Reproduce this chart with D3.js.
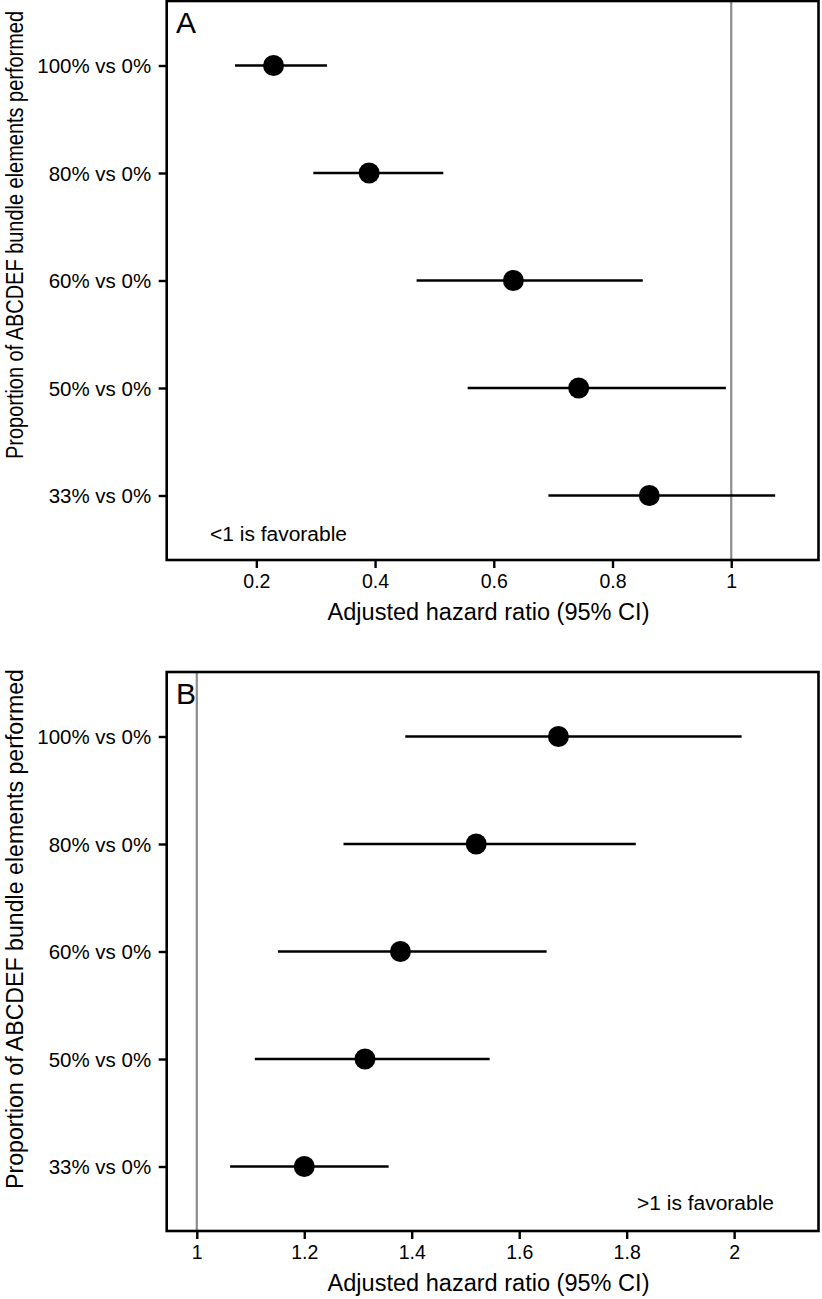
<!DOCTYPE html>
<html><head><meta charset="utf-8">
<script src="https://cdn.jsdelivr.net/npm/d3@7"></script>
<style>
body{margin:0;background:#fff}
text{font-family:"Liberation Sans",Arial,Helvetica,sans-serif;fill:#000}
</style>
</head><body>
<svg id="c" width="822" height="1299"></svg>
<script>
// ---- data ----
const categories = ["100% vs 0%", "80% vs 0%", "60% vs 0%", "50% vs 0%", "33% vs 0%"];
const hrA = [0.229, 0.390, 0.633, 0.743, 0.862];
const loA = [0.164, 0.296, 0.470, 0.556, 0.692];
const hiA = [0.319, 0.515, 0.851, 0.991, 1.074];
const hrB = [1.673, 1.520, 1.379, 1.313, 1.200];
const loB = [1.388, 1.273, 1.151, 1.108, 1.062];
const hiB = [2.014, 1.817, 1.651, 1.545, 1.357];
const ticksA = [0.2, 0.4, 0.6, 0.8, 1];
const ticksB = [1, 1.2, 1.4, 1.6, 1.8, 2];
const domainA = [0.049, 1.147];
const domainB = [0.944, 2.157];
const xTitle = "Adjusted hazard ratio (95% CI)";
const yTitle = "Proportion of ABCDEF bundle elements performed";

const svg = d3.select("#c");
const fmt = d => d3.format("~g")(d);

function drawPanel(o) {
  const L = 166.7, R = 818.5;
  const x = d3.scaleLinear().domain(o.domain).range([L, R]);
  const y = d3.scalePoint().domain(categories).range([o.top, o.bottom]).padding(0.6);
  const g = svg.append("g");

  // reference line at HR = 1
  g.append("line")
    .attr("x1", x(1)).attr("x2", x(1))
    .attr("y1", o.top).attr("y2", o.bottom)
    .attr("stroke", "#8c8c8c").attr("stroke-width", 2.2);

  const rows = categories.map((c, i) => ({c, hr: o.hr[i], lo: o.lo[i], hi: o.hi[i]}));
  g.selectAll("line.ci").data(rows).join("line").attr("class", "ci")
    .attr("x1", d => x(d.lo)).attr("x2", d => x(d.hi))
    .attr("y1", d => y(d.c)).attr("y2", d => y(d.c))
    .attr("stroke", "#000").attr("stroke-width", 2.4);
  g.selectAll("circle").data(rows).join("circle")
    .attr("cx", d => x(d.hr)).attr("cy", d => y(d.c)).attr("r", 10.5)
    .attr("fill", "#000");

  // panel border
  g.append("rect").attr("x", L).attr("y", o.top).attr("width", R - L).attr("height", o.bottom - o.top)
    .attr("fill", "none").attr("stroke", "#000").attr("stroke-width", 2.6);

  // x axis
  const xa = g.append("g").attr("transform", `translate(0,${o.bottom})`)
    .call(d3.axisBottom(x).tickValues(o.ticks).tickFormat(fmt).tickSize(8).tickPadding(8));
  xa.select(".domain").remove();
  xa.selectAll(".tick line").attr("stroke", "#000").attr("stroke-width", 2.4);
  xa.selectAll(".tick text").attr("font-size", 19.5).attr("fill", "#000")
    .attr("dy", null).attr("y", 28);

  // y axis
  const ya = g.append("g").attr("transform", `translate(${L},0)`)
    .call(d3.axisLeft(y).tickSize(8).tickPadding(8));
  ya.select(".domain").remove();
  ya.selectAll(".tick line").attr("stroke", "#000").attr("stroke-width", 2.4);
  ya.selectAll(".tick text").attr("font-size", 20.5).attr("fill", "#000")
    .attr("dy", null).attr("y", 7).attr("x", -15.5);

  // titles
  g.append("text").attr("x", 488.5).attr("y", o.bottom + 60).attr("text-anchor", "middle")
    .attr("font-size", 23).attr("textLength", 322).attr("lengthAdjust", "spacingAndGlyphs")
    .text(xTitle);
  g.append("text").attr("transform", `translate(23,${o.yTitleC}) rotate(-90)`)
    .attr("text-anchor", "middle").attr("font-size", 23)
    .attr("textLength", o.yTitleLen).attr("lengthAdjust", "spacingAndGlyphs")
    .text(yTitle);

  // panel letter
  g.append("text").attr("x", 176).attr("y", o.top + 32).attr("font-size", 30).text(o.letter);

  // note
  g.append("text").attr("x", o.noteX).attr("y", o.noteY).attr("text-anchor", o.noteAnchor)
    .attr("font-size", 19.5).attr("textLength", 137).attr("lengthAdjust", "spacingAndGlyphs")
    .text(o.note);
}

drawPanel({letter: "A", top: 1, bottom: 560, domain: domainA, ticks: ticksA,
  hr: hrA, lo: loA, hi: hiA, yTitleC: 235, yTitleLen: 448,
  note: "<1 is favorable", noteX: 210, noteY: 541, noteAnchor: "start"});
drawPanel({letter: "B", top: 672, bottom: 1231, domain: domainB, ticks: ticksB,
  hr: hrB, lo: loB, hi: hiB, yTitleC: 929, yTitleLen: 520,
  note: ">1 is favorable", noteX: 774, noteY: 1210, noteAnchor: "end"});
</script>
</body></html>
